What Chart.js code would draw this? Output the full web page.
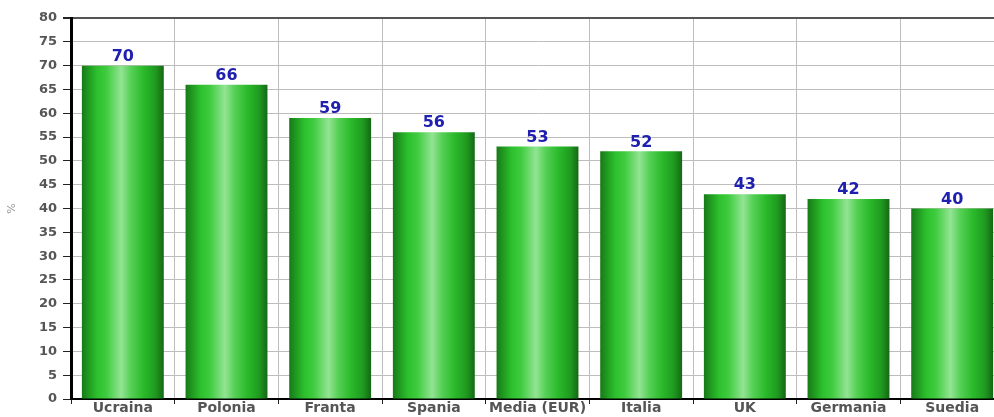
<!DOCTYPE html>
<html>
<head>
<meta charset="utf-8">
<script src="https://cdn.jsdelivr.net/npm/chart.js@4.4.1/dist/chart.umd.min.js"></script>
<style>
  html, body { margin: 0; padding: 0; background: #fff; overflow: hidden; }
  #wrap { width: 1004px; height: 417px; position: relative; }
</style>
</head>
<body>
<div id="wrap"><canvas id="chart"></canvas></div>
<script>
const categories = ['Ucraina', 'Polonia', 'Franta', 'Spania', 'Media (EUR)', 'Italia', 'UK', 'Germania', 'Suedia'];
const values = [70, 66, 59, 56, 53, 52, 43, 42, 40];
const yMax = 80;
const yStep = 5;

const fontFamily = '"DejaVu Sans", Verdana, sans-serif';

function barGradient(context) {
    const chart = context.chart;
    const xs = chart.scales.x;
    if (!xs || context.dataIndex === undefined) return '#2ebd2e';
    const cx = xs.getPixelForValue(context.dataIndex);
    const cw = xs.getPixelForValue(1) - xs.getPixelForValue(0);
    if (!isFinite(cx) || !isFinite(cw) || cw <= 0) return '#2ebd2e';
    const half = cw * 0.79 / 2;
    const g = chart.ctx.createLinearGradient(cx - half, 0, cx + half, 0);
    g.addColorStop(0, '#177a17');
    g.addColorStop(0.18, '#2cbf2c');
    g.addColorStop(0.3, '#3fcc3f');
    g.addColorStop(0.48, '#93e493');
    g.addColorStop(0.6, '#55d055');
    g.addColorStop(0.75, '#2bbb2b');
    g.addColorStop(0.9, '#1f9a1f');
    g.addColorStop(1, '#156815');
    return g;
}

const valueLabels = {
    id: 'valueLabels',
    afterDatasetsDraw(chart) {
        const ctx = chart.ctx;
        const meta = chart.getDatasetMeta(0);
        ctx.save();
        ctx.font = 'bold 16px ' + fontFamily;
        ctx.fillStyle = '#2020b0';
        ctx.textAlign = 'center';
        ctx.textBaseline = 'bottom';
        meta.data.forEach((bar, i) => {
            ctx.fillText(String(values[i]), bar.x, bar.y - 1);
        });
        ctx.restore();
    }
};

const chart = new Chart(document.getElementById('chart'), {
    type: 'bar',
    data: {
        labels: categories,
        datasets: [{
            data: values,
            backgroundColor: barGradient,
            borderWidth: 0,
            categoryPercentage: 1,
            barPercentage: 0.79
        }]
    },
    options: {
        responsive: true,
        maintainAspectRatio: false,
        animation: false,
        layout: { padding: { top: 18, left: 0, right: 0, bottom: 0 } },
        plugins: {
            legend: { display: false },
            tooltip: { enabled: false }
        },
        scales: {
            x: {
                grid: {
                    color: '#bdbdbd',
                    lineWidth: 1,
                    tickColor: '#222',
                    tickLength: 5,
                    offset: true
                },
                border: { color: '#000', width: 2 },
                ticks: {
                    color: '#555',
                    font: { family: fontFamily, size: 14, weight: 'bold', lineHeight: 1 },
                    padding: -3, maxRotation: 0, autoSkip: false
                },
                afterFit: s => { s.height = 18; }
            },
            y: {
                min: 0,
                max: yMax,
                grid: {
                    color: ctx => ctx.tick && ctx.tick.value === yMax ? '#555' : '#bdbdbd',
                    lineWidth: ctx => ctx.tick && ctx.tick.value === yMax ? 2 : 1,
                    tickColor: '#222',
                    tickLength: 8
                },
                border: { color: '#000', width: 3 },
                ticks: {
                    stepSize: yStep, color: '#555',
                    font: { family: fontFamily, size: 13, weight: 'bold' },
                    padding: 6
                },
                title: {
                    display: true,
                    text: '%',
                    color: '#999',
                    font: { family: fontFamily, size: 11 },
                    padding: { top: 6, bottom: 0 }
                },
                afterFit: s => { s.width = 71; }
            }
        }
    },
    plugins: [valueLabels]
});
chart.update();
</script>
</body>
</html>
